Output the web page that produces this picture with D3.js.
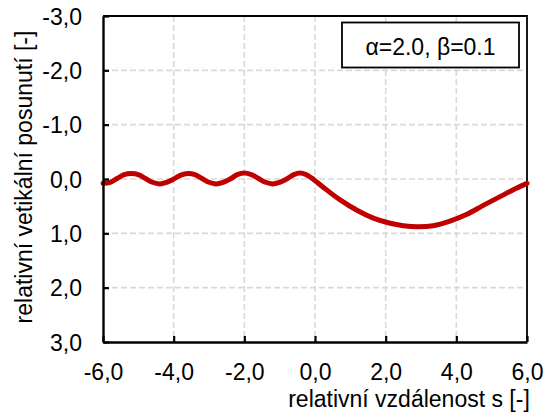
<!DOCTYPE html>
<html>
<head>
<meta charset="utf-8">
<script src="https://cdn.jsdelivr.net/npm/d3@7"></script>
<style>
  html, body { margin: 0; padding: 0; background: #fff; }
  svg { display: block; }
  text { font-family: "Liberation Sans", Arial, sans-serif; fill: #000; }
</style>
</head>
<body>
<svg id="chart" width="555" height="418"></svg>
<script>
// Relative distance s and relative vertical displacement along the beam
const sValues = [
  -6.0, -5.8, -5.6, -5.4, -5.2, -5.0, -4.8, -4.6, -4.4, -4.2,
  -4.0, -3.8, -3.6, -3.4, -3.2, -3.0, -2.8, -2.6, -2.4, -2.2,
  -2.0, -1.8, -1.6, -1.4, -1.2, -1.0, -0.8, -0.6, -0.42, -0.25,
  -0.1, 0.0, 0.25, 0.7, 1.2, 1.65, 2.1, 2.5, 2.9, 3.35,
  3.8, 4.3, 4.75, 5.25, 5.7, 6.0
];
const wValues = [
  0.08, 0.06, -0.01, -0.08, -0.10, -0.08, -0.01, 0.06, 0.09, 0.06,
  0.00, -0.07, -0.10, -0.08, -0.01, 0.06, 0.09, 0.06, 0.00, -0.08,
  -0.11, -0.08, -0.01, 0.06, 0.09, 0.06, 0.00, -0.08, -0.11, -0.08,
  -0.02, 0.03, 0.16, 0.38, 0.58, 0.72, 0.81, 0.86, 0.88, 0.86,
  0.78, 0.65, 0.49, 0.32, 0.17, 0.08
];
const xTicks = [-6, -4, -2, 0, 2, 4, 6];
const yTicks = [-3, -2, -1, 0, 1, 2, 3];
const legendText = "α=2.0, β=0.1";
const xTitle = "relativní vzdálenost s [-]";
const yTitle = "relativní vetikální posunutí [-]";

const svg = d3.select("#chart");
const plot = { left: 103, top: 16, right: 527, bottom: 342 };
const fontSize = 23;
const fmt = v => d3.format(".1f")(v).replace(".", ",").replace("−", "-");

const x = d3.scaleLinear().domain([-6, 6]).range([plot.left, plot.right]);
const y = d3.scaleLinear().domain([-3, 3]).range([plot.top, plot.bottom]);

// dashed grid
const grid = svg.append("g").attr("stroke", "#d9d9d9").attr("stroke-width", 1.6)
  .attr("stroke-dasharray", "6,3");
grid.selectAll(".gx").data(xTicks.slice(1, -1)).join("line")
  .attr("x1", d => x(d)).attr("x2", d => x(d))
  .attr("y1", plot.top).attr("y2", plot.bottom);
grid.selectAll(".gy").data(yTicks.slice(1, -1)).join("line")
  .attr("x1", plot.left).attr("x2", plot.right)
  .attr("y1", d => y(d)).attr("y2", d => y(d));

// plot border (top and right)
svg.append("path")
  .attr("d", `M${plot.left},${plot.top}H${plot.right}V${plot.bottom}`)
  .attr("fill", "none").attr("stroke", "#000").attr("stroke-width", 1.8);

// displacement curve
const pts = sValues.map((s, i) => [s, wValues[i]]);
svg.append("path")
  .datum(pts)
  .attr("fill", "none")
  .attr("stroke", "#c00000")
  .attr("stroke-width", 5)
  .attr("stroke-linecap", "round")
  .attr("stroke-linejoin", "round")
  .attr("d", d3.line().x(d => x(d[0])).y(d => y(d[1])).curve(d3.curveCatmullRom.alpha(0.5)));

// axes with inward ticks
const xAxis = svg.append("g").attr("transform", `translate(0,${plot.bottom})`)
  .call(d3.axisBottom(x).tickValues(xTicks).tickFormat(fmt).tickSizeInner(-6).tickSizeOuter(0));
const yAxis = svg.append("g").attr("transform", `translate(${plot.left},0)`)
  .call(d3.axisLeft(y).tickValues(yTicks).tickFormat(fmt).tickSizeInner(-6).tickSizeOuter(0));

[xAxis, yAxis].forEach(a => {
  a.select(".domain").attr("stroke", "#000").attr("stroke-width", 2.4);
  a.selectAll(".tick line").attr("stroke", "#000").attr("stroke-width", 2.2);
  a.selectAll(".tick text")
    .attr("font-family", "'Liberation Sans', Arial, sans-serif")
    .attr("font-size", fontSize).attr("fill", "#000");
});
xAxis.selectAll(".tick text").attr("y", 38).attr("dy", null);
yAxis.selectAll(".tick text").attr("x", -21).attr("dy", "0.36em");

// axis titles
svg.append("text")
  .attr("x", 409).attr("y", 407)
  .attr("text-anchor", "middle")
  .attr("font-size", fontSize)
  .text(xTitle);
svg.append("text")
  .attr("transform", "translate(32,177) rotate(-90)")
  .attr("text-anchor", "middle")
  .attr("font-size", fontSize)
  .text(yTitle);

// parameter box
const box = svg.append("g");
box.append("rect")
  .attr("x", 342).attr("y", 22.5).attr("width", 177).attr("height", 45)
  .attr("fill", "#fff").attr("stroke", "#000").attr("stroke-width", 1.8);
box.append("text")
  .attr("x", 430.5).attr("y", 54.5)
  .attr("text-anchor", "middle")
  .attr("font-size", fontSize)
  .text(legendText);
</script>
</body>
</html>
